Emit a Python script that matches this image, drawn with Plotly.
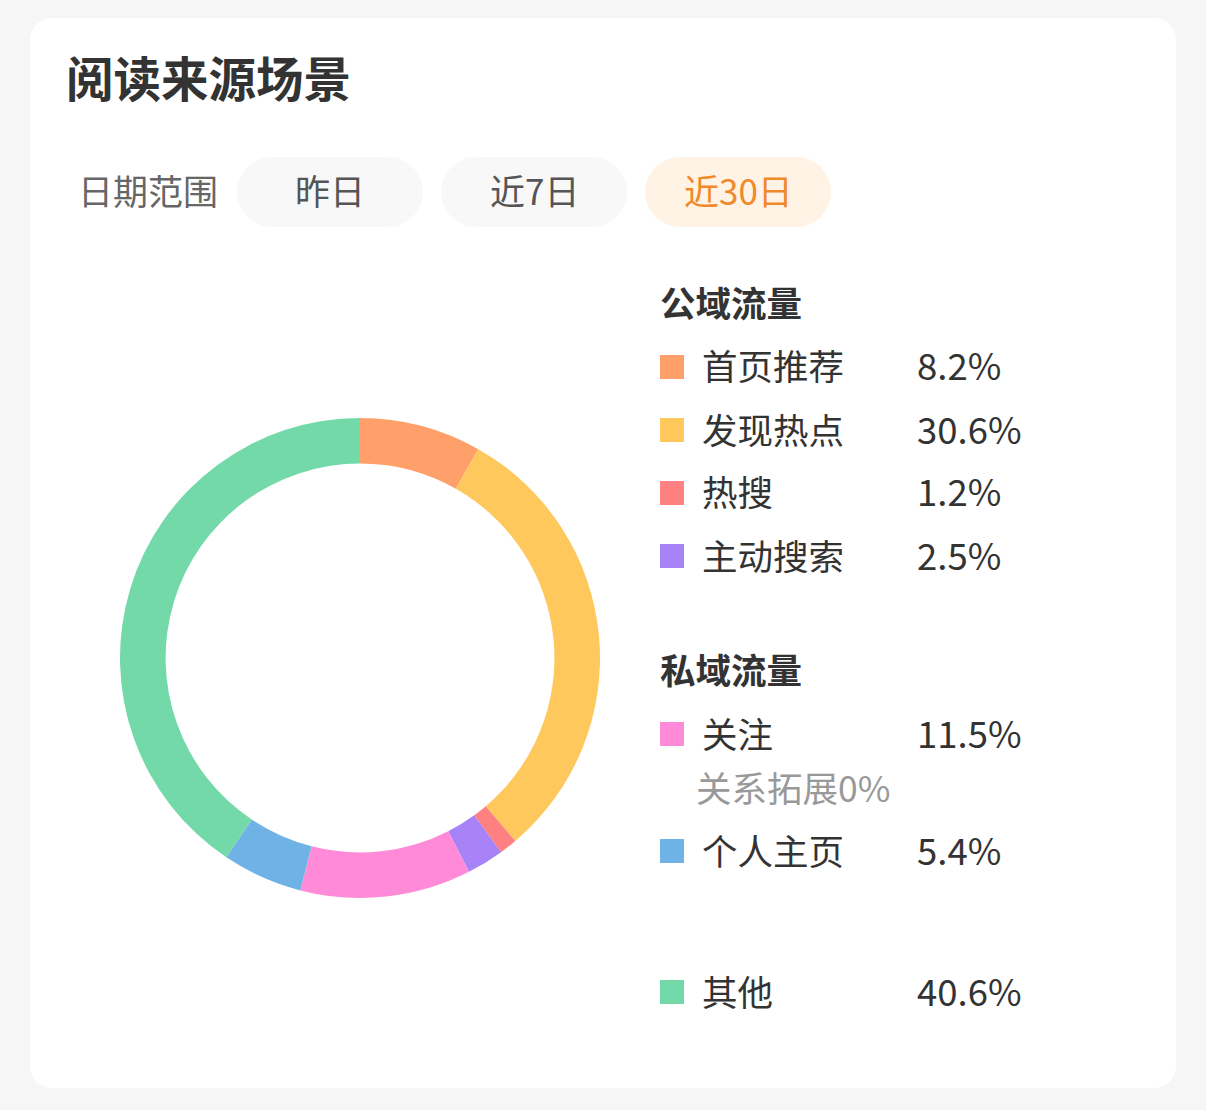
import plotly.graph_objects as go

W, H = 1206, 1110

# ---- data ----
labels = ["首页推荐", "发现热点", "热搜", "主动搜索", "关注", "个人主页", "其他"]
values = [8.2, 30.6, 1.2, 2.5, 11.5, 5.4, 40.6]
colors = ["#FF9F69", "#FFC85C", "#FF8080", "#A882F7", "#FF8AD8", "#6FB3E6", "#73D9A8"]
public_group = ["首页推荐", "发现热点", "热搜", "主动搜索"]
private_group = ["关注", "个人主页"]
other_group = ["其他"]
sub_note = "关系拓展0%"
title_text = "阅读来源场景"
range_label = "日期范围"
range_options = ["昨日", "近7日", "近30日"]
selected_option = "近30日"
group_titles = ["公域流量", "私域流量"]

FONT = "Noto Sans CJK SC, PingFang SC, sans-serif"
TEXT_DY = -3  # vertical nudge for text baseline


def px(x):
    return x / W


def py(y):
    return 1 - y / H


def rrect_path(x0, y0, x1, y1, r):
    k = 0.5523 * r
    p = lambda x, y: f"{px(x):.5f},{py(y):.5f}"
    d = f"M {p(x0 + r, y0)} L {p(x1 - r, y0)} "
    d += f"C {p(x1 - r + k, y0)} {p(x1, y0 + r - k)} {p(x1, y0 + r)} "
    d += f"L {p(x1, y1 - r)} "
    d += f"C {p(x1, y1 - r + k)} {p(x1 - r + k, y1)} {p(x1 - r, y1)} "
    d += f"L {p(x0 + r, y1)} "
    d += f"C {p(x0 + r - k, y1)} {p(x0, y1 - r + k)} {p(x0, y1 - r)} "
    d += f"L {p(x0, y0 + r)} "
    d += f"C {p(x0, y0 + r - k)} {p(x0 + r - k, y0)} {p(x0 + r, y0)} Z"
    return d


fig = go.Figure()

fig.add_trace(go.Pie(
    labels=labels,
    values=values,
    marker=dict(colors=colors, line=dict(width=0)),
    hole=0.81,
    sort=False,
    direction="clockwise",
    rotation=0,
    textinfo="none",
    hoverinfo="label+percent",
    showlegend=False,
    domain=dict(x=[px(120), px(600)], y=[py(898), py(418)]),
))

shapes = []
annotations = []


def text(t, x, y, size, color, anchor="left"):
    annotations.append(dict(text=t, x=px(x), y=py(y + TEXT_DY), xref="paper", yref="paper",
                            xanchor=anchor, yanchor="middle", showarrow=False,
                            font=dict(size=size, color=color, family=FONT)))


# card
shapes.append(dict(type="path", path=rrect_path(30, 18, 1176, 1088, 22),
                   xref="paper", yref="paper", fillcolor="#FFFFFF",
                   line=dict(width=0), layer="below"))

# title
text(f"<b>{title_text}</b>", 64, 80, 47.5, "#333333")

# date range row
text(range_label, 76, 192, 35, "#666666")
pill_x = [237, 441, 645]
pill_w = 186
for opt, x0 in zip(range_options, pill_x):
    sel = opt == selected_option
    shapes.append(dict(type="path", path=rrect_path(x0, 157, x0 + pill_w, 227, 35),
                       xref="paper", yref="paper",
                       fillcolor="#FFF3E6" if sel else "#F8F8F8",
                       line=dict(width=0), layer="below"))
    text(opt, x0 + pill_w / 2, 192, 35, "#F0892A" if sel else "#555555", "center")

# legend
label_x = 700
value_x = 915
sq_x = 660
sq = 24


def legend_row(name, yc):
    i = labels.index(name)
    shapes.append(dict(type="rect", xref="paper", yref="paper",
                       x0=px(sq_x), x1=px(sq_x + sq), y0=py(yc - 12), y1=py(yc + 12),
                       fillcolor=colors[i], line=dict(width=0)))
    text(name, label_x, yc + 1, 35.5, "#333333")
    text(f"{values[i]}%", value_x, yc + 1, 36.5, "#333333")


text(f"<b>{group_titles[0]}</b>", 658, 304, 35.5, "#333333")
for name, yc in zip(public_group, [367, 430, 493, 556]):
    legend_row(name, yc)

text(f"<b>{group_titles[1]}</b>", 658, 671, 35.5, "#333333")
legend_row(private_group[0], 734)
text(sub_note, 694, 789, 35.5, "#999999")
legend_row(private_group[1], 851)
legend_row(other_group[0], 992)

fig.update_layout(
    width=W, height=H,
    margin=dict(l=0, r=0, t=0, b=0),
    paper_bgcolor="#F6F6F6",
    plot_bgcolor="#F6F6F6",
    shapes=shapes,
    annotations=annotations,
    showlegend=False,
)

fig.write_html("out.html", config={"displayModeBar": False})
